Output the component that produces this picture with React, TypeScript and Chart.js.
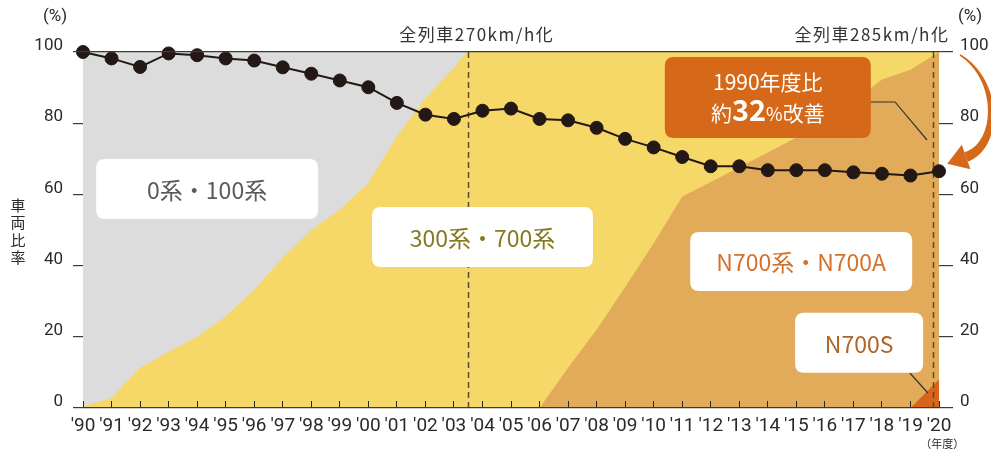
import React, { useEffect, useRef } from "react";
import { Chart, registerables } from "chart.js";

Chart.register(...registerables);

// ---------- data ----------
const years = [
  1990, 1991, 1992, 1993, 1994, 1995, 1996, 1997, 1998, 1999, 2000,
  2001, 2002, 2003, 2004, 2005, 2006, 2007, 2008, 2009, 2010,
  2011, 2012, 2013, 2014, 2015, 2016, 2017, 2018, 2019, 2020,
];
const xTickLabels = [
  "'90", "'91", "'92", "'93", "'94", "'95", "'96", "'97", "'98", "'99", "'00",
  "'01", "'02", "'03", "'04", "'05", "'06", "'07", "'08", "'09", "'10",
  "'11", "'12", "'13", "'14", "'15", "'16", "'17", "'18", "'19", "'20",
];
const yTickStep = 20;

// energy consumption index (FY1990 = 100)
const energyIndex = [
  100, 98.2, 95.8, 99.6, 99.1, 98.2, 97.6, 95.7, 93.9, 92.0, 90.1,
  85.7, 82.4, 81.2, 83.5, 84.1, 81.2, 80.8, 78.7, 75.6, 73.2,
  70.5, 67.9, 67.9, 66.8, 66.8, 66.8, 66.2, 65.8, 65.3, 66.5,
];

// cumulative fleet-share boundaries (% measured from the bottom)
const fleetTopYears = [1990, 2020];
const fleetTopValues = [100, 100]; // 0系・100系 band top
const s300TopYears = [1990, 1991, 1992, 1993, 1994, 1995, 1996, 1997, 1998, 1999, 2000, 2001, 2002, 2003, 2003.45, 2020];
const s300TopValues = [0.5, 2.8, 11.3, 15.8, 20, 25.7, 33.2, 42.1, 50, 55.7, 63.2, 76.3, 87, 95.6, 100, 100];
const n700TopYears = [2006, 2007, 2008, 2009, 2010, 2011, 2012, 2013, 2014, 2015, 2016, 2017, 2018, 2019, 2020];
const n700TopValues = [0, 11.3, 22, 34, 46.3, 59.4, 63.5, 67.6, 71.8, 76, 80.5, 86, 92.3, 95, 100];
const n700sYears = [2019, 2020];
const n700sValues = [0, 8];

// milestones
const milestoneYears = [2003.5, 2019.8];
const milestoneLabels = ["全列車270km/h化", "全列車285km/h化"];
const milestoneLabelX = [2003.8, 2017.65];

const seriesNames = ["0系・100系", "300系・700系", "N700系・N700A", "N700S"];

// ---------- styles ----------
const C_GRAY = "rgb(220,220,220)";
const C_YEL = "rgb(246,216,104)";
const C_TAN = "rgb(226,171,90)";
const C_S = "rgb(214,100,26)";
const C_CALL = "rgb(213,105,25)";
const C_DOT = "#231815";
const AXIS = "#2a2a2a";
const JP = '"Noto Sans CJK JP", "Noto Sans", sans-serif';

const pts = (xs: number[], ys: number[]) => xs.map((x, i) => ({ x, y: ys[i] }));

const boxes = [
  { text: seriesNames[0], cx: 1994.35, cy: 61.5, w: 222, h: 60, color: "#5a5a5a" },
  { text: seriesNames[1], cx: 2004.0, cy: 48.0, w: 221, h: 60, color: "#857a22" },
  { text: seriesNames[2], cx: 2015.17, cy: 41.15, w: 222, h: 59, color: "#d4722c" },
  { text: seriesNames[3], cx: 2017.2, cy: 18.3, w: 128, h: 60, color: "#b06526" },
];

function roundRect(ctx: CanvasRenderingContext2D, x: number, y: number, w: number, h: number, r: number) {
  ctx.beginPath();
  ctx.moveTo(x + r, y);
  ctx.lineTo(x + w - r, y);
  ctx.quadraticCurveTo(x + w, y, x + w, y + r);
  ctx.lineTo(x + w, y + h - r);
  ctx.quadraticCurveTo(x + w, y + h, x + w - r, y + h);
  ctx.lineTo(x + r, y + h);
  ctx.quadraticCurveTo(x, y + h, x, y + h - r);
  ctx.lineTo(x, y + r);
  ctx.quadraticCurveTo(x, y, x + r, y);
  ctx.closePath();
}

const decor = {
  id: "decor",
  afterDatasetDraw(chart: any, args: any) {
    if (args.index !== 1) return;
    const ctx: CanvasRenderingContext2D = chart.ctx;
    const X = (v: number) => chart.scales.x.getPixelForValue(v);
    const Y = (v: number) => chart.scales.y.getPixelForValue(v);
    ctx.save();
    ctx.strokeStyle = "#5b4a2c";
    ctx.lineWidth = 1.5;
    ctx.setLineDash([6, 4]);
    for (const yr of milestoneYears) {
      ctx.beginPath();
      ctx.moveTo(Math.round(X(yr)) + 0.5, Y(100));
      ctx.lineTo(Math.round(X(yr)) + 0.5, Y(0));
      ctx.stroke();
    }
    ctx.setLineDash([]);
    ctx.strokeStyle = "#333";
    ctx.lineWidth = 1.2;
    ctx.beginPath();
    ctx.moveTo(X(2017.58), Y(85.96));
    ctx.lineTo(X(2018.46), Y(85.96));
    ctx.lineTo(X(2019.58), Y(75.28));
    ctx.stroke();
    ctx.beginPath();
    ctx.moveTo(X(2018.98), Y(9.83));
    ctx.lineTo(X(2019.61), Y(4.21));
    ctx.stroke();
    ctx.restore();
  },
  afterDraw(chart: any) {
    const ctx: CanvasRenderingContext2D = chart.ctx;
    const X = (v: number) => chart.scales.x.getPixelForValue(v);
    const Y = (v: number) => chart.scales.y.getPixelForValue(v);
    ctx.save();
    // label boxes
    for (const b of boxes) {
      const cx = X(b.cx), cy = Y(b.cy);
      ctx.fillStyle = "#fff";
      roundRect(ctx, cx - b.w / 2, cy - b.h / 2, b.w, b.h, 9);
      ctx.fill();
      ctx.fillStyle = b.color;
      ctx.font = `400 23px ${JP}`;
      ctx.textAlign = "center";
      ctx.textBaseline = "middle";
      ctx.fillText(b.text, cx, cy + 1);
    }
    // callout
    {
      const cx = X(2014.0), cy = Y(87.2), w = 206, h = 81;
      ctx.fillStyle = C_CALL;
      roundRect(ctx, cx - w / 2, cy - h / 2, w, h, 9);
      ctx.fill();
      ctx.fillStyle = "#fff";
      ctx.textAlign = "center";
      ctx.textBaseline = "middle";
      ctx.font = `400 21px ${JP}`;
      ctx.fillText("1990年度比", cx, Y(91.7));
      const parts = [
        { t: "約", f: `400 21px ${JP}` },
        { t: "32", f: `700 29px ${JP}` },
        { t: "%", f: `400 18px ${JP}` },
        { t: "改善", f: `400 21px ${JP}` },
      ];
      let total = 0;
      const ws = parts.map((p) => { ctx.font = p.f; const m = ctx.measureText(p.t).width; total += m; return m; });
      let x = cx - total / 2;
      ctx.textAlign = "left";
      ctx.textBaseline = "alphabetic";
      const base = Y(83.1) + 9;
      parts.forEach((p, i) => { ctx.font = p.f; ctx.fillText(p.t, x, base); x += ws[i]; });
    }
    // milestone labels
    ctx.fillStyle = "#333";
    ctx.font = `400 17px ${JP}`;
    ctx.textAlign = "center";
    ctx.textBaseline = "middle";
    (ctx as any).letterSpacing = "1.5px";
    milestoneLabels.forEach((t, i) => ctx.fillText(t, X(milestoneLabelX[i]), Y(104.8)));
    (ctx as any).letterSpacing = "0px";
    // unit labels
    ctx.fillStyle = AXIS;
    ctx.font = `400 17px Roboto, ${JP}`;
    ctx.fillText("(%)", X(1989.02), Y(109.8));
    ctx.fillText("(%)", X(2021.09), Y(109.8));
    ctx.font = `400 11px ${JP}`;
    ctx.fillText("（年度）", X(2020.11), Y(-10.1));
    ctx.font = `400 15px ${JP}`;
    const vt = "車両比率";
    for (let i = 0; i < vt.length; i++) ctx.fillText(vt[i], X(1987.72), Y(57.0) + i * 17.5);
    // curved arrow
    const P = [
      [X(2020.74), Y(99.16)],
      [X(2022.14), Y(92.13)],
      [X(2022.14), Y(73.88)],
      [X(2020.95), Y(70.51)],
    ];
    const bez = (t: number) => {
      const u = 1 - t;
      const a = u * u * u, b = 3 * u * u * t, c = 3 * u * t * t, d = t * t * t;
      return [a * P[0][0] + b * P[1][0] + c * P[2][0] + d * P[3][0], a * P[0][1] + b * P[1][1] + c * P[2][1] + d * P[3][1]];
    };
    const der = (t: number) => {
      const u = 1 - t;
      const dx = 3 * u * u * (P[1][0] - P[0][0]) + 6 * u * t * (P[2][0] - P[1][0]) + 3 * t * t * (P[3][0] - P[2][0]);
      const dy = 3 * u * u * (P[1][1] - P[0][1]) + 6 * u * t * (P[2][1] - P[1][1]) + 3 * t * t * (P[3][1] - P[2][1]);
      const l = Math.hypot(dx, dy) || 1;
      return [dx / l, dy / l];
    };
    const L: number[][] = [], R: number[][] = [];
    const N = 40;
    for (let i = 0; i <= N; i++) {
      const t = i / N;
      const [px, py] = bez(t);
      const [dx, dy] = der(t);
      const w = 1.5 + 8.5 * t;
      L.push([px - dy * w / 2, py + dx * w / 2]);
      R.push([px + dy * w / 2, py - dx * w / 2]);
    }
    ctx.fillStyle = C_CALL;
    ctx.beginPath();
    ctx.moveTo(L[0][0], L[0][1]);
    for (const p of L) ctx.lineTo(p[0], p[1]);
    for (let i = R.length - 1; i >= 0; i--) ctx.lineTo(R[i][0], R[i][1]);
    ctx.closePath();
    ctx.fill();
    const [ex, ey] = bez(1);
    const [dx, dy] = der(1);
    ctx.beginPath();
    ctx.moveTo(ex + dx * 20, ey + dy * 20);
    ctx.lineTo(ex - dy * 13, ey + dx * 13);
    ctx.lineTo(ex + dy * 13, ey - dx * 13);
    ctx.closePath();
    ctx.fill();
    ctx.restore();
  },
};

const areaDs = (label: string, data: any[], color: string) => ({
  type: "line" as const,
  label,
  data,
  backgroundColor: color,
  borderColor: "rgba(0,0,0,0)",
  borderWidth: 0,
  pointRadius: 0,
  fill: "origin",
  tension: 0,
  yAxisID: "y",
});

export default function App() {
  const ref = useRef<HTMLCanvasElement>(null);
  useEffect(() => {
    const tickFontY = { family: "Roboto", size: 17 };
    const chart = new Chart(ref.current!, {
      type: "line",
      data: {
        datasets: [
          {
            label: "energy",
            data: pts(years, energyIndex),
            borderColor: C_DOT,
            backgroundColor: C_DOT,
            borderWidth: 2,
            pointRadius: 6.5,
            pointBorderWidth: 1,
            pointBorderColor: C_DOT,
            pointBackgroundColor: C_DOT,
            fill: false,
            tension: 0,
            clip: false as any,
            yAxisID: "y",
          },
          areaDs(seriesNames[3], pts(n700sYears, n700sValues), C_S),
          areaDs(seriesNames[2], pts(n700TopYears, n700TopValues), C_TAN),
          areaDs(seriesNames[1], pts(s300TopYears, s300TopValues), C_YEL),
          areaDs(seriesNames[0], pts(fleetTopYears, fleetTopValues), C_GRAY),
        ] as any,
      },
      options: {
        animation: false,
        responsive: false,
        layout: { padding: { top: 52, left: 0, right: 0, bottom: 0 }, autoPadding: false } as any,
        plugins: { legend: { display: false }, tooltip: { enabled: false } },
        scales: {
          x: {
            type: "linear",
            min: 1990,
            max: 2020,
            afterFit: (s: any) => { s.height = 44; },
            ticks: {
              stepSize: 1,
              autoSkip: false,
              maxRotation: 0,
              padding: 14,
              color: AXIS,
              font: { family: "Roboto", size: 19 },
              callback: (v: any) => xTickLabels[years.indexOf(Number(v))] ?? "",
            },
            grid: { z: 1, drawOnChartArea: false, tickLength: -7, tickColor: AXIS, lineWidth: 1 },
            border: { display: false },
          },
          y: {
            position: "left",
            min: 0,
            max: 100,
            afterFit: (s: any) => { s.width = 83; },
            ticks: { stepSize: yTickStep, padding: 10, labelOffset: -6, color: AXIS, font: tickFontY },
            grid: {
              z: 1,
              color: (c: any) => (c.tick && (c.tick.value === 0 || c.tick.value === 100) ? "#3a3a3a" : "rgba(0,0,0,0)"),
              tickLength: 10,
              tickColor: "#3a3a3a",
              lineWidth: 1.2,
            },
            border: { display: false },
          },
          y2: {
            position: "right",
            min: 0,
            max: 100,
            afterFit: (s: any) => { s.width = 52; },
            ticks: { stepSize: yTickStep, padding: 7, labelOffset: -6, color: AXIS, font: tickFontY },
            grid: { z: 1, drawOnChartArea: false, tickLength: 14, tickColor: "#3a3a3a", lineWidth: 1.2 },
            border: { display: false },
          },
        } as any,
      },
      plugins: [decor],
    } as any);
    return () => chart.destroy();
  }, []);
  return (
    <div style={{ position: "fixed", left: 0, top: 0, width: 991, height: 452, background: "#fff" }}>
      <canvas ref={ref} width={991} height={452} style={{ display: "block", width: 991, height: 452 }} />
    </div>
  );
}
